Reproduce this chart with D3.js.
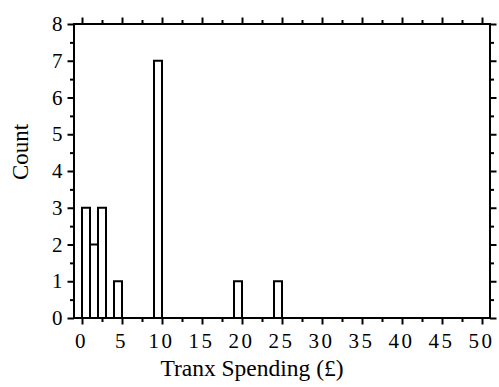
<!DOCTYPE html>
<html>
<head>
<meta charset="utf-8">
<script src="https://cdn.jsdelivr.net/npm/d3@7"></script>
<style>
  html, body { margin: 0; padding: 0; background: #fff; }
</style>
</head>
<body>
<svg id="chart" width="499" height="387"></svg>
<script>
// Histogram of transaction spending: each bin covers (value - 1, value]
const binUpper = [1, 2, 3, 5, 10, 20, 25];
const binCount = [3, 2, 3, 1, 7, 1, 1];
const binWidth = 1;

const xMajorTicks = [0, 5, 10, 15, 20, 25, 30, 35, 40, 45, 50];
const yMajorTicks = [0, 1, 2, 3, 4, 5, 6, 7, 8];
const xTitle = "Tranx Spending (£)";
const yTitle = "Count";

const serif = '"Liberation Serif", "Times New Roman", Times, serif';
const svg = d3.select("#chart");
const plotLeft = 74, plotRight = 490, plotTop = 24, plotBottom = 318;

const x = d3.scaleLinear().domain([-1, 51]).range([plotLeft, plotRight]);
const y = d3.scaleLinear().domain([0, 8]).range([plotBottom, plotTop]);

const xMinor = d3.range(2.5, 50, 5);
const yMinor = d3.range(0.5, 8, 1);

// bars
svg.append("g")
  .selectAll("rect")
  .data(binUpper.map((u, i) => ({ u, c: binCount[i] })))
  .join("rect")
  .attr("x", d => x(d.u - binWidth))
  .attr("y", d => y(d.c))
  .attr("width", d => x(d.u) - x(d.u - binWidth))
  .attr("height", d => y(0) - y(d.c))
  .attr("fill", "#fff")
  .attr("stroke", "#000")
  .attr("stroke-width", 2);

function styleAxis(g) {
  g.select(".domain").remove();
  g.selectAll(".tick line").attr("stroke", "#000").attr("stroke-width", 2);
}

// major + minor ticks on all four sides
const major = 6.5, minor = 4;
svg.append("g").attr("transform", `translate(0,${plotBottom})`)
  .call(d3.axisBottom(x).tickValues(xMinor).tickSize(minor).tickFormat(""))
  .call(styleAxis);
svg.append("g").attr("transform", `translate(0,${plotTop})`)
  .call(d3.axisTop(x).tickValues(xMinor).tickSize(minor).tickFormat(""))
  .call(styleAxis);
svg.append("g").attr("transform", `translate(0,${plotTop})`)
  .call(d3.axisTop(x).tickValues(xMajorTicks).tickSize(major).tickFormat(""))
  .call(styleAxis);
const xAx = svg.append("g").attr("transform", `translate(0,${plotBottom})`)
  .call(d3.axisBottom(x).tickValues(xMajorTicks).tickSize(major).tickPadding(9))
  .call(styleAxis);
xAx.selectAll(".tick text")
  .style("font-family", serif)
  .style("font-size", "21px")
  .style("letter-spacing", "2.5px")
  .attr("fill", "#000")
  .attr("dx", -1);

svg.append("g").attr("transform", `translate(${plotLeft},0)`)
  .call(d3.axisLeft(y).tickValues(yMinor).tickSize(minor).tickFormat(""))
  .call(styleAxis);
svg.append("g").attr("transform", `translate(${plotRight},0)`)
  .call(d3.axisRight(y).tickValues(yMinor).tickSize(minor).tickFormat(""))
  .call(styleAxis);
svg.append("g").attr("transform", `translate(${plotRight},0)`)
  .call(d3.axisRight(y).tickValues(yMajorTicks).tickSize(major).tickFormat(""))
  .call(styleAxis);
const yAx = svg.append("g").attr("transform", `translate(${plotLeft},0)`)
  .call(d3.axisLeft(y).tickValues(yMajorTicks).tickSize(major).tickPadding(5))
  .call(styleAxis);
yAx.selectAll(".tick text")
  .style("font-family", serif)
  .style("font-size", "21px")
  .attr("fill", "#000");

// frame
svg.append("rect")
  .attr("x", plotLeft).attr("y", plotTop)
  .attr("width", plotRight - plotLeft).attr("height", plotBottom - plotTop)
  .attr("fill", "none").attr("stroke", "#000").attr("stroke-width", 2);

// titles
svg.append("text")
  .attr("x", 252)
  .attr("y", 376)
  .attr("text-anchor", "middle")
  .style("font-family", serif)
  .style("font-size", "23.5px")
  .text(xTitle);

svg.append("text")
  .attr("transform", "translate(28,152) rotate(-90)")
  .attr("text-anchor", "middle")
  .style("font-family", serif)
  .style("font-size", "23px")
  .text(yTitle);
</script>
</body>
</html>
